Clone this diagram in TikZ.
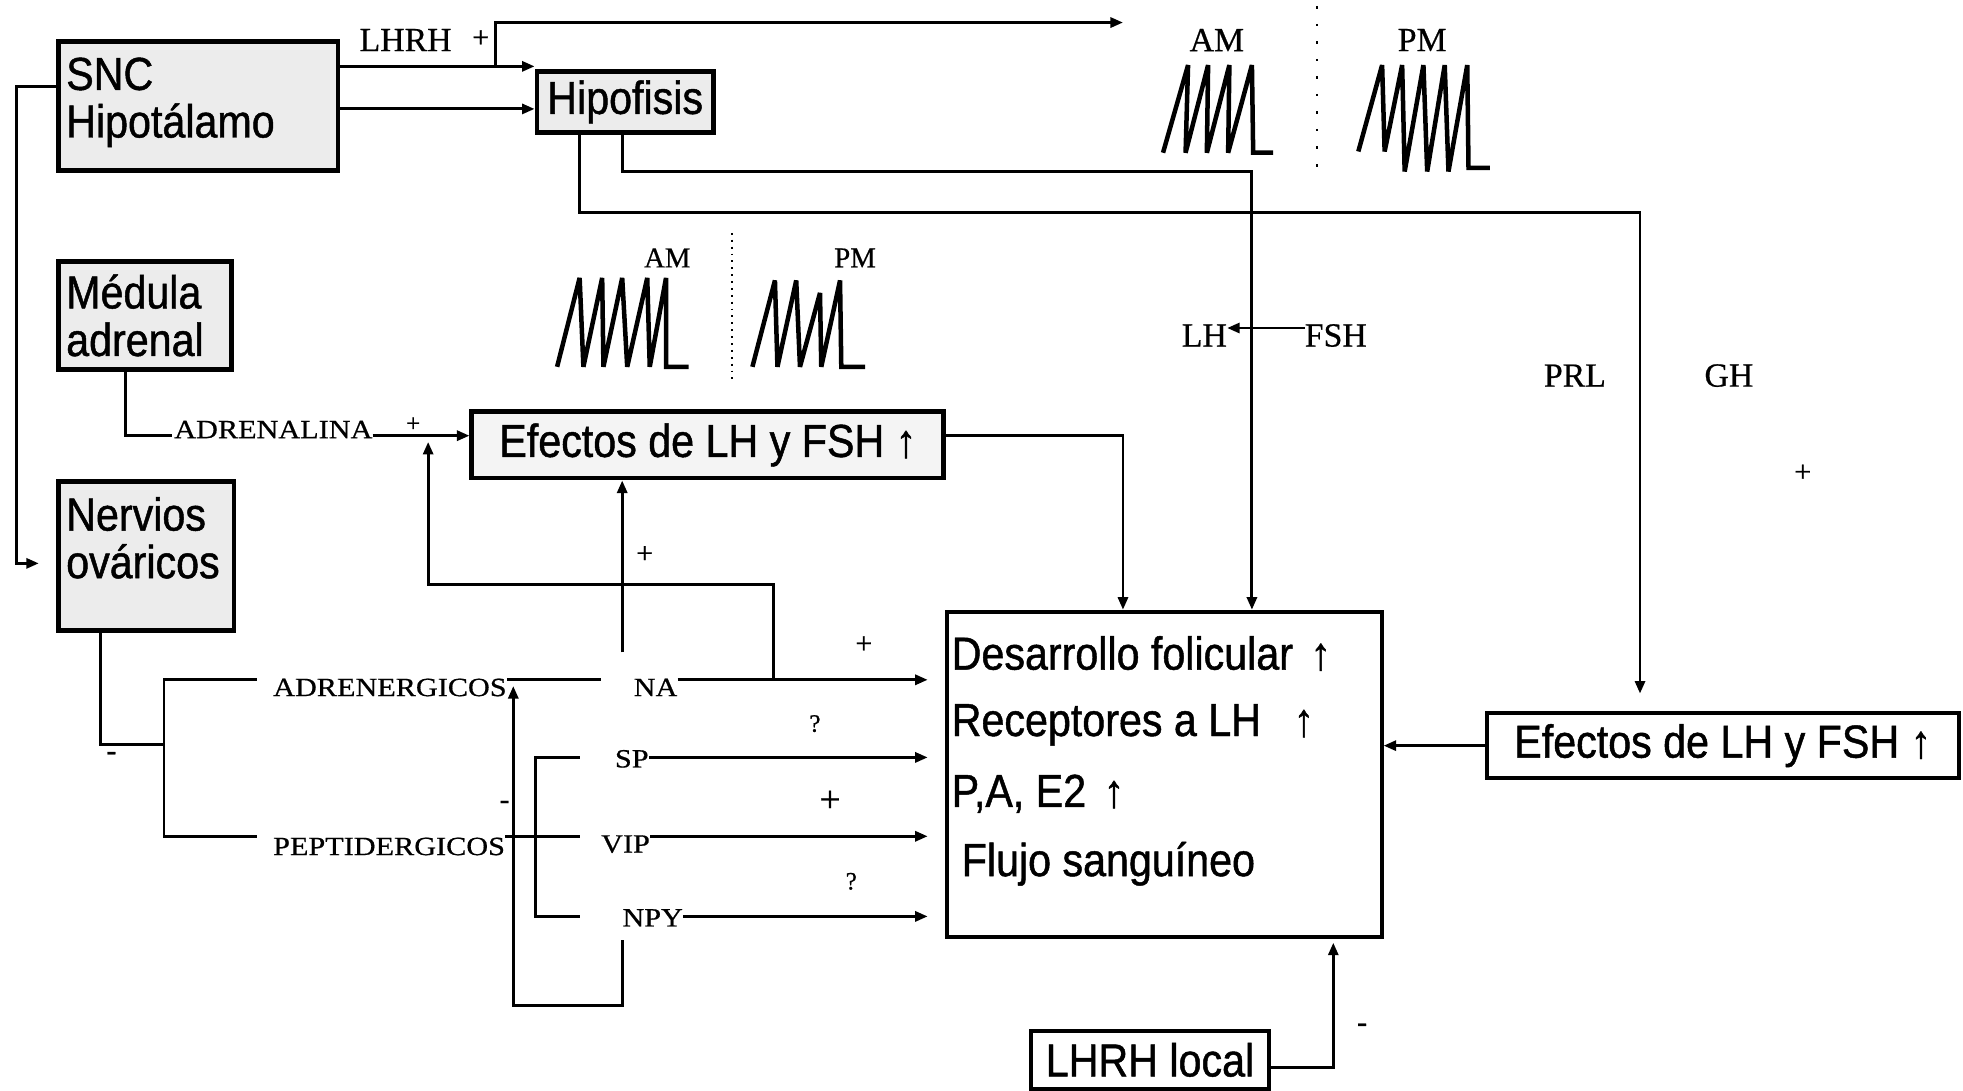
\documentclass[tikz,border=0pt]{standalone}
\usepackage{fontspec}
\setmainfont[FakeBold=0.6]{Liberation Serif}
\newfontfamily\boxsans[FakeStretch=0.89,FakeBold=1]{Liberation Sans}
\newfontfamily\widesrf[FakeStretch=1.15,FakeBold=0.6]{Liberation Serif}
\usetikzlibrary{arrows.meta}
\newcommand{\myboxfont}{\boxsans\fontsize{37}{38}\selectfont}
\newcommand{\mylblfont}{\fontsize{27}{30}\selectfont}
\newcommand{\mymidfont}{\fontsize{23}{26}\selectfont}
\newcommand{\mysmlfont}{\widesrf\fontsize{21}{24}\selectfont}
\tikzset{
  gbox/.style={draw, line width=3.8pt, fill=gray!15, inner sep=6pt, font=\myboxfont, align=left, anchor=north west},
  wbox/.style={draw, line width=3.2pt, fill=white, inner sep=6pt, font=\myboxfont, align=center, anchor=north west},
  conn/.style={line width=2.3pt},
  arr/.style={conn, -{Triangle[length=10pt,width=8pt]}},
  arrg/.style={arr, shorten >=14pt},
  lbl/.style={font=\mylblfont, inner sep=0pt},
  midlbl/.style={font=\mymidfont, inner sep=0pt},
  slbl/.style={font=\mysmlfont, inner sep=0pt},
  sign/.style={font=\fontsize{24}{26}\selectfont, inner sep=0pt},
  pulse/.style={line width=3.6pt, line join=miter, miter limit=4},
  bigtxt/.style={font=\myboxfont, inner sep=0pt, anchor=west}
}
\begin{document}
\begin{tikzpicture}[x=1pt,y=-1pt]
\fill[white] (0,0) rectangle (1568,871);
\useasboundingbox (0,0) rectangle (1568,871);

% ---------- boxes ----------
\node[gbox, text width=211, minimum height=103] (snc) at (45,31) {SNC\\Hipotálamo\rule[-13pt]{0pt}{1pt}};
\node[gbox, minimum width=141, minimum height=49, align=center] (hip) at (427,55) {Hipofisis};
\node[gbox, text width=126, minimum height=86] (med) at (45,207) {Médula\\adrenal};
\node[gbox, text width=128, minimum height=119] (ner) at (45,383) {Nervios\\ováricos\rule[-30pt]{0pt}{1pt}};
\node[gbox, fill=gray!9, minimum width=377, minimum height=53, align=center] (efm) at (375,327) {Efectos de LH y FSH ↑};
\node[wbox, minimum width=347, minimum height=260] (big) at (755,487) {};
\node[wbox, minimum width=377, minimum height=52] (efr) at (1186,568) {Efectos de LH y FSH ↑};
\node[wbox, minimum width=190, minimum height=46] (lhl) at (822,822) {LHRH local};

% texts inside big box
\node[bigtxt] (d1) at (760,522) {Desarrollo folicular\hspace{14pt}↑};
\node[bigtxt] (d2) at (760,579) {Receptores a LH\hspace{26pt}↑};
\node[bigtxt] (d3) at (760,634) {P,A, E2\hspace{14pt}↑};
\node[bigtxt] (d4) at (768,690) {Flujo sanguíneo};

% ---------- labels ----------
\node[lbl] (lhrh) at (324,32) {LHRH};
\node[sign] (p1) at (384,31) {+};
\node[lbl] (amt) at (972,32) {AM};
\node[lbl] (pmt) at (1136,32) {PM};
\node[midlbl] (amm) at (533,206) {AM};
\node[midlbl] (pmm) at (683,206) {PM};
\node[lbl] (lh) at (962,268) {LH};
\node[lbl] (fsh) at (1067,268) {FSH};
\node[lbl] (prl) at (1258,300) {PRL};
\node[lbl] (gh) at (1381,300) {GH};
\node[sign] (p2) at (1440,378) {+};
\node[slbl, anchor=base west] (adr) at (139,350) {ADRENALINA};
\node[sign, font=\fontsize{20}{22}\selectfont] (p3) at (330,339) {+};
\node[sign] (p4) at (515,443) {+};
\node[slbl, anchor=base west] (adrg) at (218,556) {ADRENERGICOS};
\node[slbl, anchor=base west] (pepg) at (218,683) {PEPTIDERGICOS};
\node[slbl, anchor=base west] (na) at (506,556) {NA};
\node[slbl, anchor=base west] (sp) at (491,613) {SP};
\node[slbl, anchor=base west] (vip) at (480,681) {VIP};
\node[slbl, anchor=base west] (npy) at (497,740) {NPY};
\node[sign] (p5) at (690,515) {+};
\node[sign, font=\fontsize{20}{22}\selectfont] (q1) at (651,578) {?};
\node[sign, font=\fontsize{30}{32}\selectfont] (p6) at (663,640) {+};
\node[sign, font=\fontsize{20}{22}\selectfont] (q2) at (680,704) {?};
\node[sign] (m1) at (89,604) {-};
\node[sign] (m2) at (403,643) {-};
\node[sign] (m3) at (1088,821) {-};

% ---------- connectors ----------
\draw[arr] (snc.east |- 0,53) -- (hip.west |- 0,53);
\draw[arr] (snc.east |- 0,87) -- (hip.west |- 0,87);
\coordinate (jl) at (396,53);
\coordinate (lhrhend) at (897,18);
\draw[arr] (jl) |- (lhrhend);

\coordinate (lt) at (13,69);
\coordinate (nerin) at (31,450);
\draw[arr] (snc.west |- lt) -- (lt) |- (nerin);

\coordinate (efrtop) at (1310,554);
\draw[arr] (hip.south -| 463,0) |- (1310,170) -- (efrtop);
\draw[arr] (hip.south -| 497,0) |- (1000,137) -- (big.north -| 1000,0);
\draw[arr] (fsh.west |- 0,262) -- (lh.east |- 0,262);

\coordinate (adrA) at (137,348);
\draw[conn] (med.south -| 100,0) |- (adrA);
\draw[arr] (adr.east |- 0,348) -- (efm.west |- 0,348);
\draw[arr] (efm.east |- 0,348) -| (big.north -| 897,0);

\coordinate (naup) at (497,521);
\draw[arr] (naup) -- (efm.south -| naup);
\coordinate (fb) at (618,543);
\draw[arr] (fb) |- (342,467) -- (342,353);

\draw[conn] (ner.south -| 80,0) |- (131,595);
\draw[conn] (205,543) -| (131,668) -- (205,668);
\draw[conn] (adrg.east |- 0,543) -- (480,543);
\draw[arrg] (na.east |- 0,543) -- (big.west |- 0,543);
\draw[arr] (497,751) |- (410,803) -- (410,548);
\draw[conn] (pepg.east |- 0,668) -- (463,668);
\draw[arrg] (vip.east |- 0,668) -- (big.west |- 0,668);
\draw[conn] (463,605) -| (428,732) -- (463,732);
\draw[arrg] (sp.east |- 0,605) -- (big.west |- 0,605);
\draw[arrg] (npy.east |- 0,732) -- (big.west |- 0,732);

\draw[arr] (efr.west) -- (big.east |- efr.west);
\coordinate (lhlup) at (1065,753);
\draw[arr] (lhl.east |- 0,853) -| (lhlup);

% ---------- pulse graphs ----------
\draw[pulse] (929,122) -- (949,52) -- (947,122) -- (965,52) -- (964,122) -- (982,52) -- (981,122) -- (1000,52) -- (1001,122) -- (1017,122);
\draw[pulse] (1085,121) -- (1104,52) -- (1106,121) -- (1120,52) -- (1122,137) -- (1137,52) -- (1140,137) -- (1154,52) -- (1157,137) -- (1172,52) -- (1173,134) -- (1190,134);
\draw[pulse] (445,293) -- (463,222) -- (466,293) -- (481,222) -- (482,293) -- (497,222) -- (501,293) -- (517,222) -- (519,293) -- (532,222) -- (532,293) -- (550,293);
\draw[pulse] (601,293) -- (619,224) -- (621,293) -- (636,224) -- (639,293) -- (655,234) -- (656,293) -- (671,224) -- (672,293) -- (691,293);
\draw[line width=1.5pt, dash pattern=on 2pt off 12pt] (1052,5) -- (1052,140);
\draw[line width=1.5pt, dash pattern=on 1.5pt off 4pt] (585,186) -- (585,305);
\end{tikzpicture}
\end{document}
